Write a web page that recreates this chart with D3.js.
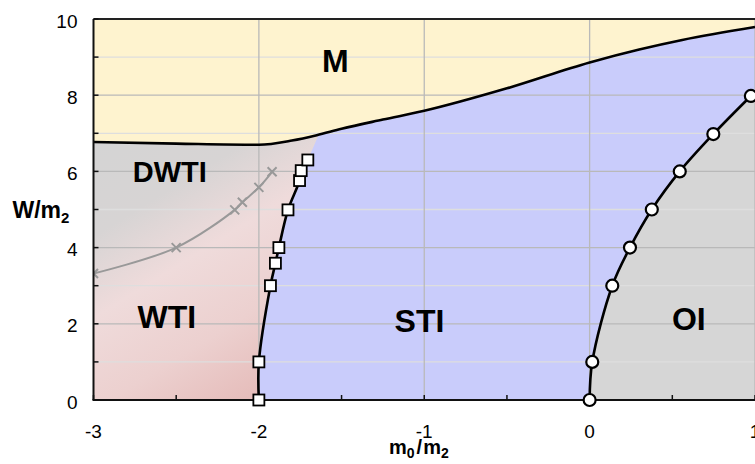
<!DOCTYPE html>
<html><head><meta charset="utf-8">
<script src="https://cdn.jsdelivr.net/npm/d3@7"></script>
<style>body{margin:0;background:#fff} svg{display:block}</style>
</head><body><svg id="c" width="755" height="464"></svg>
<script>
// ---- data ----
const xTicks = [-3, -2, -1, 0, 1];
const yTicks = [0, 2, 4, 6, 8, 10];
const topBoundary = [[-3,6.77],[-2.5,6.73],[-2,6.70],[-1.8,6.81],[-1.65,6.95],[-1.5,7.12],[-1.25,7.36],[-1,7.59],[-0.5,8.18],[0,8.86],[0.3,9.2],[0.56,9.45],[1,9.79]];
const squareBoundary = [[-2,0],[-2,1],[-1.93,3],[-1.90,3.59],[-1.879,4],[-1.824,4.99],[-1.754,5.76],[-1.744,6.02],[-1.704,6.30]];
const joinPoint = [-1.63, 7.05];
const circleBoundary = [[0,0],[0.016,1],[0.137,3],[0.244,4],[0.376,5],[0.545,6],[0.748,6.98],[0.975,7.98]];
const crossLine = [[-3,3.32],[-2.5,4.0],[-2.146,4.99],[-2.10,5.19],[-2.0,5.58],[-1.92,5.99]];
const phaseNames = ["M", "DWTI", "WTI", "STI", "OI"];
const phaseAt = [[-1.537,8.62],[-2.539,5.714],[-2.556,1.882],[-1.029,1.793],[0.600,1.837]];

// ---- layout ----
const svg = d3.select("#c");
const x = d3.scaleLinear().domain([-3, 1]).range([93.5, 755]);
const y = d3.scaleLinear().domain([0, 10]).range([400, 19]);
const X0 = x(-3), X1 = x(1), Y0 = y(0), Y1 = y(10);

const defs = svg.append("defs");
defs.append("clipPath").attr("id","plot").append("rect")
  .attr("x", X0).attr("y", Y1).attr("width", X1 - X0 + 2).attr("height", Y0 - Y1);
const g = defs.append("linearGradient").attr("id","grad").attr("gradientUnits","userSpaceOnUse")
  .attr("x1", x(-3)).attr("y1", y(7)).attr("x2", x(-2)).attr("y2", y(0));
[[0,"#d4d4d4"],[0.28,"#d7d4d4"],[0.5,"#efdbdb"],[0.75,"#ecd0cf"],[1,"#e5bbb9"]].forEach(s =>
  g.append("stop").attr("offset", s[0]).attr("stop-color", s[1]));

const plot = svg.append("g").attr("clip-path","url(#plot)");
const font = "'Liberation Sans', Arial, Helvetica, sans-serif";

// blue background (STI)
plot.append("rect").attr("x", X0).attr("y", Y1).attr("width", X1 - X0 + 2).attr("height", Y0 - Y1).attr("fill", "#c9ccfb");

const lineCR = d3.line().x(d => x(d[0])).y(d => y(d[1])).curve(d3.curveCatmullRom.alpha(0.5));
const lineMono = d3.line().x(d => x(d[0])).y(d => y(d[1])).curve(d3.curveMonotoneX);

// left region (WTI/DWTI)
plot.append("path")
  .attr("d", "M" + x(-3) + "," + y(0) + lineCR(squareBoundary).replace(/^M/, "L") +
        "L" + x(joinPoint[0]) + "," + y(joinPoint[1]) + "L" + x(joinPoint[0]) + "," + y(10) +
        "L" + x(-3) + "," + y(10) + "Z")
  .attr("fill", "url(#grad)");

// OI region
plot.append("path")
  .attr("d", lineCR(circleBoundary) + "L" + (x(1) + 4) + "," + y(8.1) + "L" + (x(1) + 4) + "," + y(0) + "Z")
  .attr("fill", "#d6d6d6");

// M region
plot.append("path")
  .attr("d", lineMono(topBoundary) + "L" + (x(1) + 4) + "," + y(topBoundary[topBoundary.length-1][1]) +
        "L" + (x(1) + 4) + "," + y(10) + "L" + x(-3) + "," + y(10) + "Z")
  .attr("fill", "#fef3cf");

// grid
const yGrid = d3.range(1, 10, 1);
plot.selectAll(".hg").data(yGrid).enter().append("line")
  .attr("x1", X0).attr("x2", X1 + 2).attr("y1", d => y(d)).attr("y2", d => y(d))
  .attr("stroke", d => d % 2 === 0 ? "#b9b9b9" : "#dedede").attr("stroke-width", 1.3);
plot.selectAll(".vg").data(xTicks.slice(1)).enter().append("line")
  .attr("x1", d => x(d)).attr("x2", d => x(d)).attr("y1", Y1).attr("y2", Y0)
  .attr("stroke", "#b9b9b9").attr("stroke-width", 1.3);

// boundaries
plot.append("path").attr("d", lineMono(topBoundary)).attr("fill","none").attr("stroke","#000").attr("stroke-width",2.6);
plot.append("path").attr("d", lineCR(squareBoundary)).attr("fill","none").attr("stroke","#000").attr("stroke-width",2.6);
plot.append("path").attr("d", lineCR(circleBoundary)).attr("fill","none").attr("stroke","#000").attr("stroke-width",2.6);
plot.append("path").attr("d", lineCR(crossLine)).attr("fill","none").attr("stroke","#999").attr("stroke-width",2);

// cross markers
const cs = 4.5;
plot.selectAll(".cx").data(crossLine).enter().append("path")
  .attr("d", d => `M${x(d[0])-cs},${y(d[1])-cs}L${x(d[0])+cs},${y(d[1])+cs}M${x(d[0])-cs},${y(d[1])+cs}L${x(d[0])+cs},${y(d[1])-cs}`)
  .attr("stroke","#999").attr("stroke-width",2).attr("fill","none");

// axes frame
svg.append("line").attr("x1", X0).attr("x2", X1).attr("y1", Y1).attr("y2", Y1).attr("stroke","#222").attr("stroke-width",2);
svg.append("line").attr("x1", X0).attr("x2", X0).attr("y1", Y1).attr("y2", Y0).attr("stroke","#111").attr("stroke-width",2);
svg.append("line").attr("x1", X0 - 1).attr("x2", X1).attr("y1", Y0).attr("y2", Y0).attr("stroke","#111").attr("stroke-width",2);

// ticks (inward)
svg.selectAll(".yt").data(d3.range(0, 11, 1)).enter().append("line")
  .attr("x1", X0).attr("x2", X0 + 5).attr("y1", d => y(d)).attr("y2", d => y(d))
  .attr("stroke","#111").attr("stroke-width",1.5);
svg.selectAll(".xt").data(d3.range(-3, 1.01, 0.5)).enter().append("line")
  .attr("x1", d => x(d)).attr("x2", d => x(d)).attr("y1", Y0).attr("y2", Y0 - 5)
  .attr("stroke","#111").attr("stroke-width",1.5);

// square markers
const sq = 11;
svg.selectAll(".sq").data(squareBoundary).enter().append("rect")
  .attr("x", d => x(d[0]) - sq/2).attr("y", d => y(d[1]) - sq/2).attr("width", sq).attr("height", sq)
  .attr("fill","#fff").attr("stroke","#000").attr("stroke-width",1.8);
// circle markers
svg.selectAll(".ci").data(circleBoundary).enter().append("circle")
  .attr("cx", d => x(d[0])).attr("cy", d => y(d[1])).attr("r", 6)
  .attr("fill","#fff").attr("stroke","#000").attr("stroke-width",2.2);

// tick labels
svg.selectAll(".yl").data(yTicks).enter().append("text")
  .attr("x", 77.5).attr("y", d => y(d) + 8.5).attr("text-anchor","end")
  .attr("font-family", font).attr("font-size", 19).text(d => d);
svg.selectAll(".xl").data(xTicks).enter().append("text")
  .attr("x", d => x(d)).attr("y", 438).attr("text-anchor","middle")
  .attr("font-family", font).attr("font-size", 19).text(d => d);

// phase labels
svg.selectAll(".pl").data(phaseNames).enter().append("text")
  .attr("x", (d,i) => x(phaseAt[i][0])).attr("y", (d,i) => y(phaseAt[i][1]))
  .attr("text-anchor","middle").attr("font-family", font).attr("font-weight","bold")
  .attr("font-size", d => d === "DWTI" ? 29 : 32).text(d => d);

// axis titles
const yt = svg.append("text").attr("x", 12.5).attr("y", 218).attr("font-family", font).attr("font-weight","bold").attr("font-size", 23);
yt.append("tspan").text("W/m");
yt.append("tspan").attr("dy", 5).attr("font-size", 15).text("2");

const xt = svg.append("text").attr("x", 389).attr("y", 454).attr("font-family", font).attr("font-weight","bold").attr("font-size", 20);
xt.append("tspan").text("m");
xt.append("tspan").attr("dy", 4).attr("font-size", 14).text("0");
xt.append("tspan").attr("dy", -4).attr("dx", 2).text("/");
xt.append("tspan").attr("dx", 1).text("m");
xt.append("tspan").attr("dy", 4).attr("font-size", 14).text("2");
</script>
</body></html>
